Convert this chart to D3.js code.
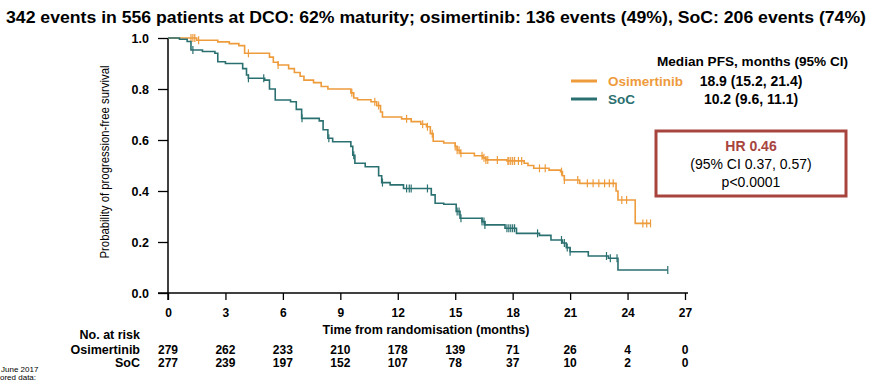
<!DOCTYPE html>
<html>
<head>
<meta charset="utf-8">
<script src="https://cdn.jsdelivr.net/npm/d3@7"></script>
<style>
  body { margin: 0; background: #fff; }
  svg { font-family: "Liberation Sans", Arial, sans-serif; display: block; }
</style>
</head>
<body>
<div id="chart"></div>
<script>
// KM step data: [month, survival after the step]
const osiSteps = [[0,1.0],[1.5,0.991],[2.6,0.985],[3.2,0.978],[3.7,0.970],[4.0,0.94],[5.3,0.925],[5.5,0.905],[5.75,0.894],
  [6.3,0.88],[6.6,0.865],[6.9,0.85],[7.1,0.835],[7.6,0.825],[8.0,0.81],[8.35,0.80],[9.55,0.785],[9.7,0.765],[9.9,0.758],
  [10.6,0.75],[10.9,0.735],[11.1,0.71],[11.2,0.69],[12.2,0.683],[12.7,0.672],[13.2,0.662],[13.5,0.652],[13.7,0.625],
  [13.85,0.595],[14.4,0.588],[15.0,0.575],[15.1,0.56],[15.25,0.548],[16.0,0.538],[16.45,0.53],[16.6,0.522],[17.7,0.518],
  [18.6,0.509],[18.8,0.50],[19.1,0.489],[19.9,0.482],[20.5,0.476],[20.6,0.46],[20.7,0.443],[21.5,0.43],[23.4,0.40],
  [23.5,0.365],[24.4,0.273]];
const osiCensor = [1.2,1.3,1.4,1.6,4.2,5.75,9.6,10.8,11.0,12.46,13.3,13.55,13.8,15.0,15.1,15.2,15.3,16.4,16.5,16.6,16.7,
  17.2,17.75,17.8,17.9,18.0,18.1,18.3,18.47,19.4,19.7,20.55,20.7,21.4,21.9,22.2,22.5,22.8,23.05,23.25,23.7,23.95,24.8,25.0,25.2];

const socSteps = [[0,1.0],[0.6,0.995],[1.0,0.986],[1.2,0.953],[1.8,0.947],[2.45,0.94],[2.6,0.907],[3.0,0.90],[3.9,0.88],
  [4.1,0.855],[4.2,0.842],[5.05,0.835],[5.3,0.80],[5.6,0.757],[6.4,0.75],[6.7,0.72],[6.98,0.685],[7.9,0.675],[8.1,0.64],
  [8.35,0.607],[8.6,0.593],[9.55,0.575],[9.65,0.54],[9.76,0.509],[10.3,0.495],[11.0,0.46],[11.16,0.433],[11.6,0.424],
  [12.3,0.41],[13.75,0.385],[13.95,0.352],[14.4,0.348],[15.05,0.32],[15.25,0.293],[16.4,0.28],[16.55,0.267],[17.6,0.254],
  [18.2,0.234],[19.4,0.226],[20.0,0.208],[20.6,0.196],[20.8,0.178],[21.0,0.162],[21.95,0.145],[23.0,0.136],[23.5,0.09]];
const socCensor = [1.3,4.2,5.0,7.0,8.4,9.7,11.2,12.46,12.6,12.7,13.55,15.1,15.2,15.3,16.4,16.5,16.55,17.7,17.8,17.9,18.0,
  18.1,19.3,20.55,20.7,20.85,21.0,22.9,23.1,23.45,26.1];

const xTicks = [0,3,6,9,12,15,18,21,24,27];
const yTicks = [0,0.2,0.4,0.6,0.8,1.0];
const riskOsi = [279,262,233,210,178,139,71,26,4,0];
const riskSoc = [277,239,197,152,107,78,37,10,2,0];

const orange = "#EE9B3C", teal = "#2B7070", hrRed = "#A8443E";

const width = 878, height = 382;
const svg = d3.select("#chart").append("svg")
  .attr("width", width).attr("height", height);

let x = d3.scaleLinear().domain([0, 27]).range([168, 685]);
let y = d3.scaleLinear().domain([0, 1]).range([293, 38]);

// title
svg.append("text")
  .attr("x", 6).attr("y", 23)
  .attr("font-size", 16).attr("font-weight", "bold")
  .attr("textLength", 860).attr("lengthAdjust", "spacingAndGlyphs")
  .text("342 events in 556 patients at DCO: 62% maturity; osimertinib: 136 events (49%), SoC: 206 events (74%)");

// axes
svg.append("g")
  .attr("transform", "translate(0,293)")
  .call(d3.axisBottom(x).tickValues(xTicks).tickSize(7).tickPadding(8).tickFormat(d3.format("d")))
  .call(g => g.select(".domain").attr("d", "M158,0H688").attr("stroke-width", 1.5))
  .call(g => g.selectAll(".tick line").attr("stroke-width", 1.3))
  .call(g => g.selectAll("text").attr("font-size", 12).attr("font-weight", "bold")
    .attr("font-family", "Liberation Sans, Arial, sans-serif").attr("fill", "#000"));

svg.append("g")
  .attr("transform", "translate(168,0)")
  .call(d3.axisLeft(y).tickValues(yTicks).tickSize(10).tickPadding(9).tickFormat(d3.format(".1f")))
  .call(g => g.select(".domain").attr("d", "M0,38V300").attr("stroke-width", 1.5))
  .call(g => g.selectAll(".tick line").attr("stroke-width", 1.3))
  .call(g => g.selectAll("text").attr("font-size", 12.5).attr("font-weight", "bold")
    .attr("font-family", "Liberation Sans, Arial, sans-serif").attr("fill", "#000"));

svg.append("text")
  .attr("transform", "translate(109,162) rotate(-90)")
  .attr("text-anchor", "middle")
  .attr("font-size", 13)
  .attr("textLength", 193).attr("lengthAdjust", "spacingAndGlyphs")
  .text("Probability of progression-free survival");

svg.append("text")
  .attr("x", 426).attr("y", 334)
  .attr("text-anchor", "middle")
  .attr("font-size", 12.5).attr("font-weight", "bold")
  .attr("textLength", 207).attr("lengthAdjust", "spacingAndGlyphs")
  .text("Time from randomisation (months)");

// curves
function survAt(steps, t) {
  let s = steps[0][1];
  steps.forEach(d => { if (d[0] <= t) s = d[1]; });
  return s;
}

let line = d3.line().x(d => x(d[0])).y(d => y(d[1])).curve(d3.curveStepAfter);

function drawCurve(steps, censor, color) {
  let end = d3.max(censor);
  let pts = steps.concat([[end, steps[steps.length - 1][1]]]);
  svg.append("path")
    .attr("d", line(pts))
    .attr("fill", "none")
    .attr("stroke", color)
    .attr("stroke-width", 1.6);
  svg.append("g")
    .selectAll("line")
    .data(censor)
    .join("line")
    .attr("x1", d => x(d)).attr("x2", d => x(d))
    .attr("y1", d => y(survAt(steps, d)) - 4)
    .attr("y2", d => y(survAt(steps, d)) + 4)
    .attr("stroke", color)
    .attr("stroke-width", 1.2);
}
drawCurve(osiSteps, osiCensor, orange);
drawCurve(socSteps, socCensor, teal);

// legend
svg.append("text")
  .attr("x", 848).attr("y", 66)
  .attr("text-anchor", "end")
  .attr("font-size", 13.5).attr("font-weight", "bold")
  .attr("textLength", 191).attr("lengthAdjust", "spacingAndGlyphs")
  .text("Median PFS, months (95% CI)");

const legendRows = [
  {name: "Osimertinib", color: orange, median: "18.9 (15.2, 21.4)", y: 81},
  {name: "SoC", color: teal, median: "10.2 (9.6, 11.1)", y: 99}
];
legendRows.forEach(r => {
  svg.append("line")
    .attr("x1", 571).attr("x2", 597)
    .attr("y1", r.y).attr("y2", r.y)
    .attr("stroke", r.color).attr("stroke-width", 3);
  svg.append("text")
    .attr("x", 608).attr("y", r.y + 5)
    .attr("font-size", 13.5).attr("font-weight", "bold")
    .attr("fill", r.color)
    .text(r.name);
  svg.append("text")
    .attr("x", 751).attr("y", r.y + 5)
    .attr("text-anchor", "middle")
    .attr("font-size", 14).attr("font-weight", "bold")
    .text(r.median);
});

// HR box
svg.append("rect")
  .attr("x", 656).attr("y", 131)
  .attr("width", 190).attr("height", 65)
  .attr("fill", "none")
  .attr("stroke", hrRed).attr("stroke-width", 3);
svg.append("text")
  .attr("x", 751).attr("y", 151)
  .attr("text-anchor", "middle")
  .attr("font-size", 14).attr("font-weight", "bold").attr("fill", hrRed)
  .text("HR 0.46");
svg.append("text")
  .attr("x", 751).attr("y", 169)
  .attr("text-anchor", "middle")
  .attr("font-size", 14)
  .text("(95% CI 0.37, 0.57)");
svg.append("text")
  .attr("x", 751).attr("y", 187)
  .attr("text-anchor", "middle")
  .attr("font-size", 14)
  .text("p<0.0001");

// number at risk
svg.append("text")
  .attr("x", 140).attr("y", 339)
  .attr("text-anchor", "end")
  .attr("font-size", 12.5).attr("font-weight", "bold")
  .text("No. at risk");

[["Osimertinib", riskOsi, 354], ["SoC", riskSoc, 367]].forEach(([lab, vals, yy]) => {
  svg.append("text")
    .attr("x", 140).attr("y", yy)
    .attr("text-anchor", "end")
    .attr("font-size", 12.5).attr("font-weight", "bold")
    .text(lab);
  svg.append("g")
    .selectAll("text")
    .data(vals)
    .join("text")
    .attr("x", (d, i) => x(xTicks[i]))
    .attr("y", yy)
    .attr("text-anchor", "middle")
    .attr("font-size", 12).attr("font-weight", "bold")
    .text(d => d);
});

// footnote fragments at the bottom-left edge
svg.append("text")
  .attr("x", 1).attr("y", 372)
  .attr("font-size", 8)
  .text("June 2017");
svg.append("text")
  .attr("x", 0).attr("y", 380)
  .attr("font-size", 8)
  .text("ored data:");
</script>
</body>
</html>
